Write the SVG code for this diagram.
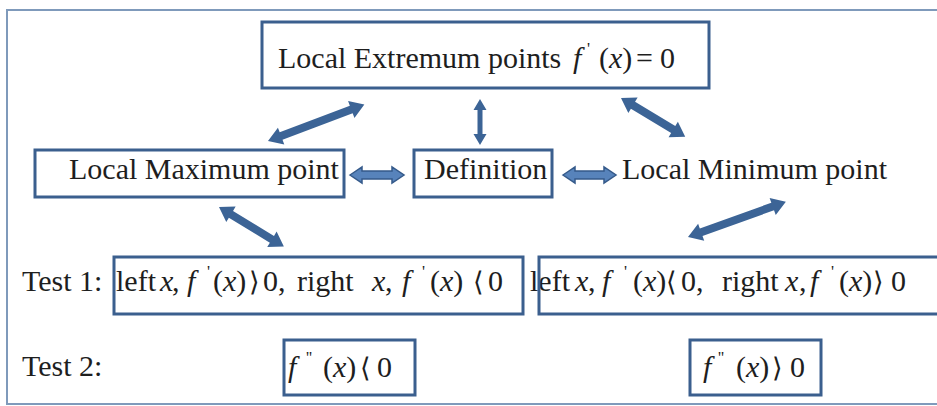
<svg xmlns="http://www.w3.org/2000/svg" width="937" height="406" viewBox="0 0 937 406">
<style>
.frame{fill:none;stroke:#7f9abb;stroke-width:2}
.box{fill:none;stroke:#3b5f8e;stroke-width:3}
.t{font-size:30px;fill:#1e1e1e}
.i{font-style:italic}
.p{font-size:17px}
.ab{font-size:27px}
.arr{fill:#3c6496}
.arr2{fill:#5783bb;stroke:#355a8a;stroke-width:1.5}
</style>
<rect class="frame" x="7" y="10" width="945" height="394"/>

<g id="extremum">
<text class="t" font-family="Liberation Serif, serif" y="68"><tspan x="278">Local Extremum points</tspan><tspan class="i" x="573">f</tspan><tspan class="p" x="587" dy="-14">'</tspan><tspan x="599" dy="14">(</tspan><tspan class="i">x</tspan><tspan>)</tspan><tspan x="636">=</tspan><tspan x="660">0</tspan></text>
<rect class="box" x="262" y="22" width="447" height="66"/>
</g>

<g id="maximum">
<text class="t" font-family="Liberation Serif, serif" x="69" y="179">Local Maximum point</text>
<rect class="box" x="35" y="150" width="309" height="47"/>
</g>

<g id="definition">
<text class="t" font-family="Liberation Serif, serif" x="424" y="179">Definition</text>
<rect class="box" x="414" y="150" width="138" height="47"/>
</g>

<g id="minimum">
<text class="t" font-family="Liberation Serif, serif" x="622" y="179">Local Minimum point</text>
</g>

<g id="test1-label">
<text class="t" font-family="Liberation Serif, serif" x="22" y="291">Test 1:</text>
</g>

<g id="test1-max">
<text class="t" font-family="Liberation Serif, serif" y="291"><tspan x="116">left</tspan><tspan class="i" x="160">x</tspan><tspan x="172">,</tspan><tspan class="i" x="187">f</tspan><tspan class="p" x="207" dy="-14">'</tspan><tspan x="213" dy="14">(</tspan><tspan class="i">x</tspan><tspan>)</tspan><tspan class="ab" x="249">⟩</tspan><tspan x="263">0</tspan><tspan x="278">,</tspan><tspan x="297">right</tspan><tspan class="i" x="372">x</tspan><tspan x="385">,</tspan><tspan class="i" x="402">f</tspan><tspan class="p" x="422" dy="-14">'</tspan><tspan x="430" dy="14">(</tspan><tspan class="i">x</tspan><tspan>)</tspan><tspan class="ab" x="473">⟨</tspan><tspan x="488">0</tspan></text>
<rect class="box" x="114" y="257" width="409" height="57"/>
</g>

<g id="test1-min">
<text class="t" font-family="Liberation Serif, serif" y="291"><tspan x="530">left</tspan><tspan class="i" x="575">x</tspan><tspan x="588">,</tspan><tspan class="i" x="602">f</tspan><tspan class="p" x="624" dy="-14">'</tspan><tspan x="633" dy="14">(</tspan><tspan class="i">x</tspan><tspan>)</tspan><tspan class="ab" x="666">⟨</tspan><tspan x="681">0</tspan><tspan x="696">,</tspan><tspan x="722">right</tspan><tspan class="i" x="785">x</tspan><tspan x="799">,</tspan><tspan class="i" x="810">f</tspan><tspan class="p" x="831" dy="-14">'</tspan><tspan x="839" dy="14">(</tspan><tspan class="i">x</tspan><tspan>)</tspan><tspan class="ab" x="873">⟩</tspan><tspan x="891">0</tspan></text>
<rect class="box" x="539" y="257" width="410" height="57"/>
</g>

<g id="test2-label">
<text class="t" font-family="Liberation Serif, serif" x="22" y="376">Test 2:</text>
</g>

<g id="test2-max">
<text class="t" font-family="Liberation Serif, serif" y="377"><tspan class="i" x="288">f</tspan><tspan class="p" x="306" dy="-14">''</tspan><tspan x="323" dy="14">(</tspan><tspan class="i">x</tspan><tspan>)</tspan><tspan class="ab" x="360">⟨</tspan><tspan x="377">0</tspan></text>
<rect class="box" x="284" y="340" width="131" height="55"/>
</g>

<g id="test2-min">
<text class="t" font-family="Liberation Serif, serif" y="377"><tspan class="i" x="703">f</tspan><tspan class="p" x="718" dy="-14">''</tspan><tspan x="736" dy="14">(</tspan><tspan class="i">x</tspan><tspan>)</tspan><tspan class="ab" x="772">⟩</tspan><tspan x="790">0</tspan></text>
<rect class="box" x="690" y="340" width="131" height="55"/>
</g>

<g id="connectors">
<polygon class="arr" transform="translate(268,141) rotate(-20.7)" points="0,0 14,-9 14,-4 89,-4 89,-9 103,0 89,9 89,4 14,4 14,9"/>
<polygon class="arr" transform="translate(480,99) rotate(90)" points="0,0 11,-6.5 11,-2.5 35,-2.5 35,-6.5 46,0 35,6.5 35,2.5 11,2.5 11,6.5"/>
<polygon class="arr" transform="translate(621,98) rotate(31.1)" points="0,0 14,-9 14,-4 61,-4 61,-9 75,0 61,9 61,4 14,4 14,9"/>
<polygon class="arr2" transform="translate(350,175)" points="0,0 12,-8 12,-4 42,-4 42,-8 54,0 42,8 42,4 12,4 12,8"/>
<polygon class="arr2" transform="translate(563,175)" points="0,0 12,-8 12,-4 41,-4 41,-8 53,0 41,8 41,4 12,4 12,8"/>
<polygon class="arr" transform="translate(219,207) rotate(31.4)" points="0,0 14,-9 14,-4 62,-4 62,-9 76,0 62,9 62,4 14,4 14,9"/>
<polygon class="arr" transform="translate(688,237) rotate(-19.8)" points="0,0 14,-9 14,-4 90,-4 90,-9 104,0 90,9 90,4 14,4 14,9"/>
</g>
</svg>
